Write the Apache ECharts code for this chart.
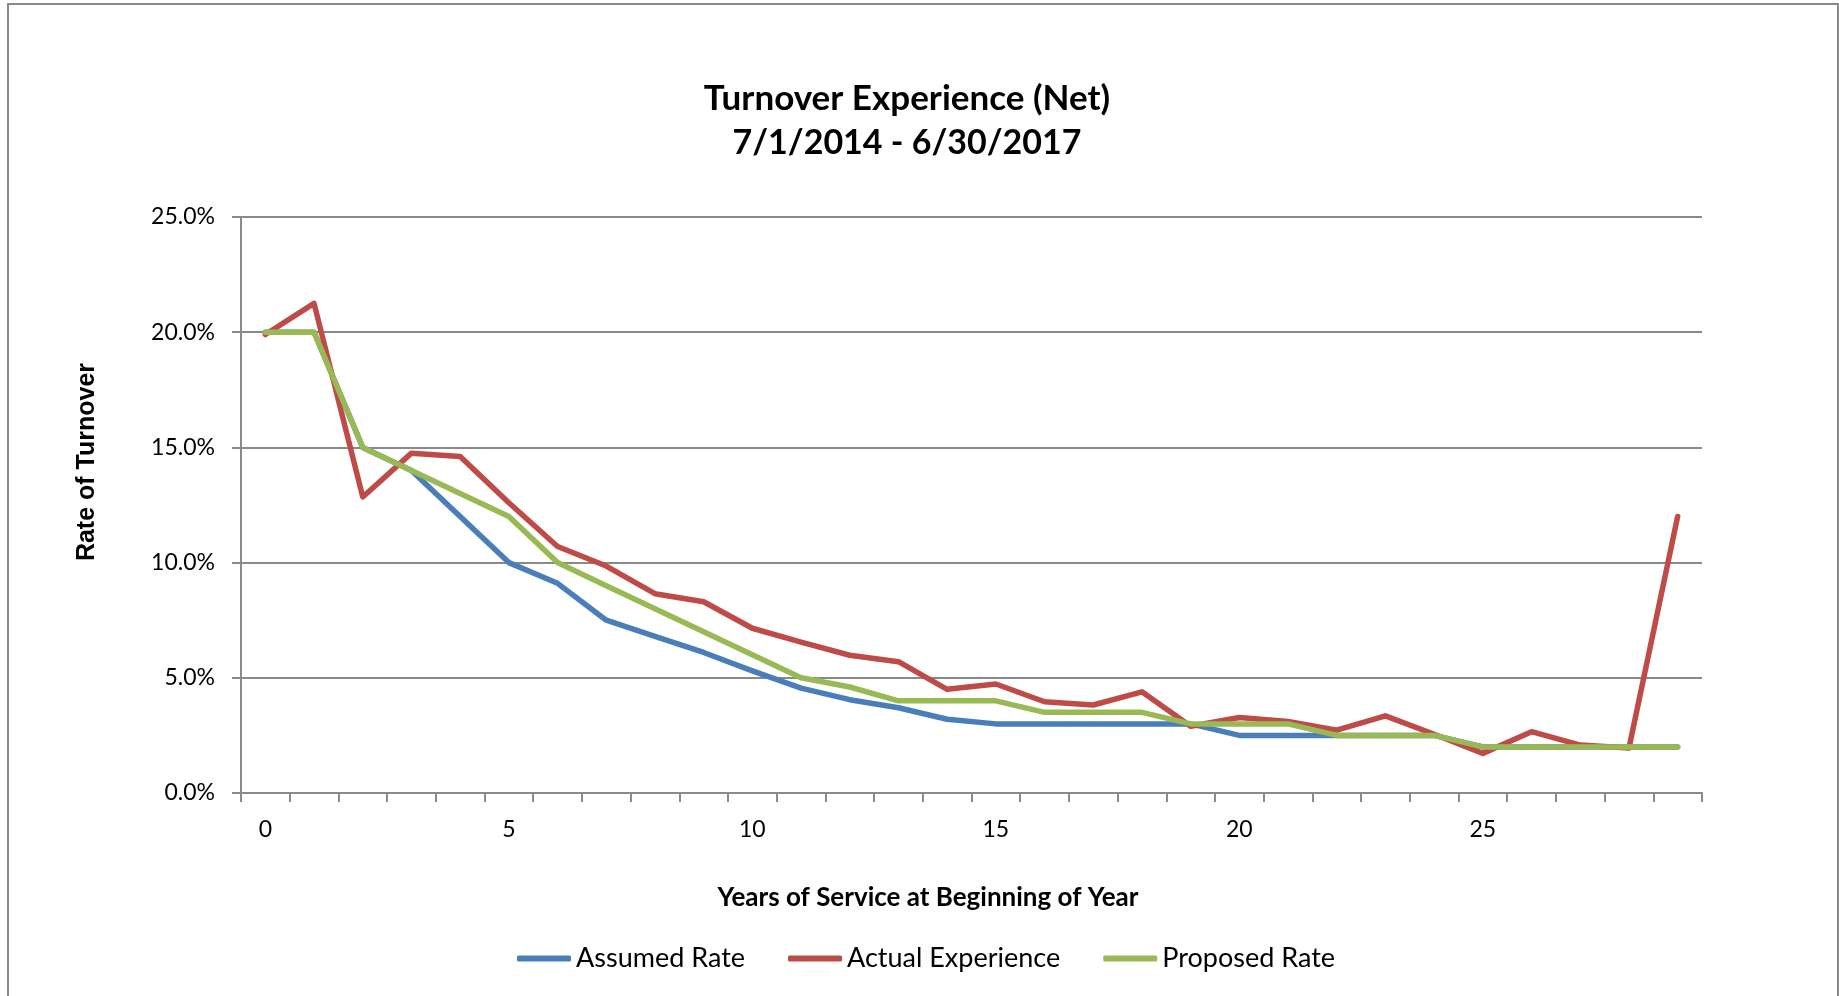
<!DOCTYPE html>
<html>
<head>
<meta charset="utf-8">
<title>Turnover Experience (Net)</title>
<script src="https://cdn.jsdelivr.net/npm/echarts@6/dist/echarts.min.js"></script>
<style>
  html, body { margin: 0; padding: 0; background: #ffffff; }
  #chart { width: 1839px; height: 996px; }
</style>
</head>
<body>
<div id="chart"></div>
<script>
// Years of service at beginning of year (0..29)
const years = ['0','1','2','3','4','5','6','7','8','9','10','11','12','13','14',
               '15','16','17','18','19','20','21','22','23','24','25','26','27','28','29'];

// Turnover rates, in percent
const assumedRate = [20.0, 20.0, 15.0, 14.0, 12.0, 10.0, 9.1, 7.5, 6.8, 6.1,
                     5.3, 4.55, 4.05, 3.7, 3.2, 3.0, 3.0, 3.0, 3.0, 3.0,
                     2.5, 2.5, 2.5, 2.5, 2.5, 2.0, 2.0, 2.0, 2.0, 2.0];
const actualExperience = [19.9, 21.25, 12.85, 14.75, 14.6, 12.6, 10.7, 9.85, 8.65, 8.3,
                          7.15, 6.55, 5.98, 5.7, 4.5, 4.73, 3.96, 3.82, 4.39, 2.9,
                          3.28, 3.1, 2.73, 3.35, 2.55, 1.72, 2.66, 2.08, 1.95, 12.0];
const proposedRate = [20.0, 20.0, 15.0, 14.0, 13.0, 12.0, 10.0, 9.0, 8.0, 7.0,
                      6.0, 5.0, 4.6, 4.0, 4.0, 4.0, 3.5, 3.5, 3.5, 3.0,
                      3.0, 3.0, 2.5, 2.5, 2.5, 2.0, 2.0, 2.0, 2.0, 2.0];

// Y axis ticks: 0.0% .. 25.0%
const yMin = 0, yMax = 25, yStep = 5;

const FONT = "Lato, 'Liberation Sans', Arial, sans-serif";
const GRID_GRAY = '#8a8a8a';

function lineSeries(name, data, color) {
  return {
    name: name,
    type: 'line',
    data: data,
    symbol: 'none',
    smooth: false,
    lineStyle: { color: color, width: 5.5, cap: 'round', join: 'round' },
    itemStyle: { color: color },
    emphasis: { disabled: true }
  };
}

const chart = echarts.init(document.getElementById('chart'), null, { renderer: 'canvas' });

chart.setOption({
  animation: false,
  backgroundColor: '#ffffff',
  title: {
    text: '{a|Turnover Experience (Net)}\n{b|7/1/2014 - 6/30/2017}',
    left: 902,
    top: 72,
    textAlign: 'center',
    textStyle: {
      fontFamily: FONT,
      fontWeight: 'bold',
      color: '#000000',
      rich: {
        a: { fontFamily: FONT, fontSize: 35, fontWeight: 'bold', lineHeight: 44, color: '#000000' },
        b: { fontFamily: FONT, fontSize: 34, fontWeight: 'bold', lineHeight: 44, color: '#000000' }
      }
    }
  },
  grid: { left: 241, right: 137, top: 217, bottom: 203, containLabel: false },
  xAxis: {
    type: 'category',
    data: years,
    boundaryGap: true,
    axisLine: { show: true, lineStyle: { color: GRID_GRAY, width: 2 } },
    axisTick: { show: true, interval: 0, length: 9, alignWithLabel: false,
                lineStyle: { color: GRID_GRAY, width: 2 } },
    axisLabel: { interval: 4, margin: 25, color: '#000000',
                 fontFamily: FONT, fontSize: 23 },
    splitLine: { show: false }
  },
  yAxis: {
    type: 'value',
    min: yMin,
    max: yMax,
    interval: yStep,
    axisLine: { show: true, lineStyle: { color: GRID_GRAY, width: 2 } },
    axisTick: { show: true, length: 9, lineStyle: { color: GRID_GRAY, width: 2 } },
    axisLabel: { margin: 26, color: '#000000', fontFamily: FONT, fontSize: 23,
                 formatter: v => v.toFixed(1) + '%' },
    splitLine: { show: true, lineStyle: { color: GRID_GRAY, width: 2 } }
  },
  legend: {
    data: ['Assumed Rate', 'Actual Experience', 'Proposed Rate'],
    left: 512,
    top: 940,
    icon: 'roundRect',
    itemWidth: 54,
    itemHeight: 6,
    itemGap: 43,
    textStyle: { fontFamily: FONT, fontSize: 27, color: '#000000' },
    selectedMode: false
  },
  graphic: [
    {
      type: 'rect',
      shape: { x: 8, y: 4, width: 1830, height: 1100 },
      style: { fill: 'none', stroke: '#8a8a8a', lineWidth: 2 },
      silent: true
    },
    {
      type: 'text',
      x: 87,
      y: 462,
      rotation: Math.PI / 2,
      style: {
        text: 'Rate of Turnover',
        fill: '#000000',
        font: "bold 25px 'Liberation Sans', Arial, sans-serif",
        textAlign: 'center',
        textVerticalAlign: 'middle'
      },
      silent: true
    },
    {
      type: 'text',
      x: 928,
      y: 898,
      style: {
        text: 'Years of Service at Beginning of Year',
        fill: '#000000',
        font: "bold 26px Lato, 'Liberation Sans', Arial, sans-serif",
        textAlign: 'center',
        textVerticalAlign: 'middle'
      },
      silent: true
    }
  ],
  series: [
    lineSeries('Assumed Rate', assumedRate, '#4A7EBB'),
    lineSeries('Actual Experience', actualExperience, '#BE4B48'),
    lineSeries('Proposed Rate', proposedRate, '#98B954')
  ]
});
</script>
</body>
</html>
